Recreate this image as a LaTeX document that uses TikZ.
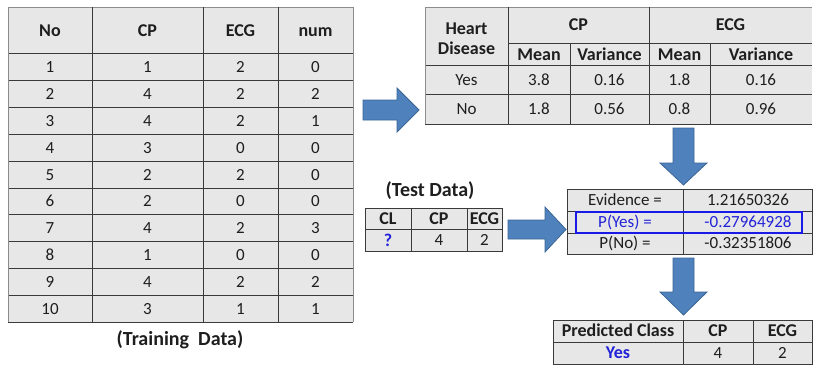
\documentclass[tikz,border=0pt]{standalone}
\usepackage{fontspec}
\setmainfont{Carlito}
\definecolor{cellgray}{HTML}{E7E7E7}
\definecolor{gridline}{HTML}{3A3A3A}
\definecolor{rimline}{HTML}{8C8C8C}
\definecolor{arrowfill}{HTML}{4F81BD}
\definecolor{arrowedge}{HTML}{3A6595}
\definecolor{txtblue}{HTML}{2222D8}
\definecolor{boxblue}{HTML}{1A1AE6}
\definecolor{txt}{HTML}{1E1E1E}
\tikzset{
  cell/.style={inner sep=0pt, text height=10.9pt, text depth=0pt, font=\fontsize{17}{20}\selectfont, text=txt},
  hcell/.style={cell, text height=11.5pt, font=\fontsize{18}{21}\selectfont\bfseries},
  grid/.style={draw=gridline, line width=0.9pt},
  rim/.style={draw=rimline, line width=0.9pt},
  tablefill/.style={fill=cellgray},
  blockarrow/.style={fill=arrowfill, draw=arrowedge, line width=0.8pt, line join=miter},
  caption/.style={inner sep=0pt, text height=12.8pt, text depth=0pt, font=\fontsize{20}{23}\selectfont\bfseries, text=txt}
}
\begin{document}
\begin{tikzpicture}[x=1pt,y=-1pt]
\useasboundingbox (0,0) rectangle (813,365);

% ---------- Training table ----------
\fill[tablefill] (8,7) rectangle (353,322);
\foreach \yy in {53,80,107,134,161,188,214,241,268,295,322}
  \draw[grid] (8,\yy) -- (353,\yy);
\draw[rim] (8,7) -- (353,7);
\foreach \xx in {92,203,278}
  \draw[grid] (\xx,7) -- (\xx,322);
\draw[rim] (8,7) -- (8,322);
\draw[rim] (353,7) -- (353,322);
\node[hcell] (trh1) at (50,31) {No};
\node[hcell] (trh2) at (147.5,31) {CP};
\node[hcell] (trh3) at (240.5,31) {ECG};
\node[hcell] (trh4) at (315.5,31) {num};
\foreach \n/\cp/\ecg/\num [count=\i from 0] in {1/1/2/0,2/4/2/2,3/4/2/1,4/3/0/0,5/2/2/0,6/2/0/0,7/4/2/3,8/1/0/0,9/4/2/2,10/3/1/1}{
  \pgfmathsetmacro{\ry}{67+26.9*\i}
  \node[cell] (tr\n a) at (50,\ry) {\n};
  \node[cell] (tr\n b) at (147.5,\ry) {\cp};
  \node[cell] (tr\n c) at (240.5,\ry) {\ecg};
  \node[cell] (tr\n d) at (315.5,\ry) {\num};
}
\node[caption] (trcap) at (180,339) {(Training\ \ Data)};

% ---------- Statistics table ----------
\fill[tablefill] (425,7) rectangle (812,124);
\draw[rim] (425,7) -- (812,7);
\draw[grid] (508,43) -- (812,43);
\draw[grid] (425,65) -- (812,65);
\draw[grid] (425,94) -- (812,94);
\draw[grid] (425,124) -- (812,124);
\draw[rim] (425,7) -- (425,124);
\foreach \xx in {508,649}
  \draw[grid] (\xx,7) -- (\xx,124);
\foreach \xx in {570,710}
  \draw[grid] (\xx,43) -- (\xx,124);
\node[hcell] (sth0a) at (466.5,29) {Heart};
\node[hcell] (sth0b) at (466.5,49) {Disease};
\node[hcell] (sthcp) at (578.5,25) {CP};
\node[hcell] (sthecg) at (730.5,25) {ECG};
\node[hcell] (sth1) at (539,54.5) {Mean};
\node[hcell] (sth2) at (609.5,54.5) {Variance};
\node[hcell] (sth3) at (679.5,54.5) {Mean};
\node[hcell] (sth4) at (761,54.5) {Variance};
\node[cell] (sty0) at (466.5,80) {Yes};
\node[cell] (sty1) at (539,80) {3.8};
\node[cell] (sty2) at (609.5,80) {0.16};
\node[cell] (sty3) at (679.5,80) {1.8};
\node[cell] (sty4) at (761,80) {0.16};
\node[cell] (stn0) at (466.5,109.5) {No};
\node[cell] (stn1) at (539,109.5) {1.8};
\node[cell] (stn2) at (609.5,109.5) {0.56};
\node[cell] (stn3) at (679.5,109.5) {0.8};
\node[cell] (stn4) at (761,109.5) {0.96};

% ---------- Test data ----------
\node[caption] (tecap) at (430,190) {(Test Data)};
\fill[tablefill] (365,208) rectangle (502,251);
\draw[grid] (365,208) rectangle (502,251);
\draw[grid] (365,229) -- (502,229);
\foreach \xx in {411,467}
  \draw[grid] (\xx,208) -- (\xx,251);
\node[hcell] (teh1) at (388,219) {CL};
\node[hcell] (teh2) at (439,219) {CP};
\node[hcell] (teh3) at (484.5,219) {ECG};
\node[hcell, text=txtblue] (tev1) at (388,240.5) {?};
\node[cell] (tev2) at (439,240.5) {4};
\node[cell] (tev3) at (484.5,240.5) {2};

% ---------- Evidence table ----------
\fill[tablefill] (567,189) rectangle (812,254);
\draw[grid] (567,189) rectangle (812,254);
\draw[grid] (567,211) -- (812,211);
\draw[grid] (567,233) -- (812,233);
\draw[grid] (683,189) -- (683,254);
\node[cell] (ev1) at (625,200.5) {Evidence =};
\node[cell] (ev2) at (748,200.5) {1.21650326};
\node[cell, text=txtblue] (py1) at (625,222) {P(Yes) =};
\node[cell, text=txtblue] (py2) at (748,222) {-0.27964928};
\node[cell] (pn1) at (625,243.5) {P(No) =};
\node[cell] (pn2) at (748,243.5) {-0.32351806};
\draw[draw=boxblue, line width=1.6pt] (576,212) rectangle (802,233);

% ---------- Predicted table ----------
\fill[tablefill] (553,320) rectangle (812,364);
\draw[grid] (553,320) rectangle (812,364);
\draw[grid] (553,342) -- (812,342);
\foreach \xx in {683,753}
  \draw[grid] (\xx,320) -- (\xx,364);
\node[hcell] (prh1) at (618,331) {Predicted Class};
\node[hcell] (prh2) at (718,331) {CP};
\node[hcell] (prh3) at (782.5,331) {ECG};
\node[hcell, text=txtblue] (prv1) at (618,353) {Yes};
\node[cell] (prv2) at (718,353) {4};
\node[cell] (prv3) at (782.5,353) {2};

% ---------- Block arrows ----------
\draw[blockarrow] (363,100) -- (397,100) -- (397,88) -- (419,110) -- (397,132) -- (397,120) -- (363,120) -- cycle;
\draw[blockarrow] (508,220) -- (545,220) -- (545,207) -- (566,229.5) -- (545,252) -- (545,239) -- (508,239) -- cycle;
\draw[blockarrow] (673,128) -- (694,128) -- (694,163) -- (707,163) -- (683.5,185) -- (660,163) -- (673,163) -- cycle;
\draw[blockarrow] (673,258) -- (694,258) -- (694,292) -- (707,292) -- (683.5,315) -- (660,292) -- (673,292) -- cycle;
\end{tikzpicture}
\end{document}
